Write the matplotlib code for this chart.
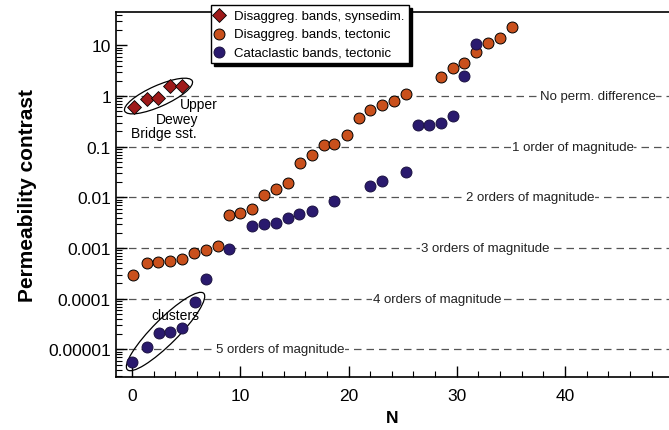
import matplotlib
matplotlib.use('Agg')
import matplotlib.pyplot as plt
from matplotlib.patches import Ellipse
from matplotlib.transforms import ScaledTranslation
from matplotlib.ticker import LogLocator, FixedLocator, MultipleLocator, NullFormatter

plt.rcParams['font.family'] = ['Liberation Sans', 'DejaVu Sans']

# Disaggregation bands, synsedimentary (Upper Dewey Bridge sst.)
syn_n = [0.2, 1.35, 2.4, 3.5, 4.6]
syn_k = [0.62, 0.87, 0.90, 1.55, 1.6]

# Disaggregation bands, tectonic
dis_n = [0.1, 1.35, 2.4, 3.5, 4.6, 5.7, 6.8, 7.9, 9.0, 10.0, 11.1, 12.2, 13.3, 14.4,
         15.5, 16.6, 17.7, 18.7, 19.85, 20.95, 22.0, 23.1, 24.2, 25.3,
         28.55, 29.65, 30.7, 31.8, 32.9, 34.0, 35.1]
dis_k = [3.0e-4, 5.1e-4, 5.2e-4, 5.6e-4, 6.1e-4, 8.1e-4, 9.0e-4, 1.1e-3, 4.4e-3, 5.0e-3,
         6.0e-3, 0.0109, 0.0148, 0.0192, 0.047, 0.070, 0.109, 0.113, 0.167, 0.37,
         0.53, 0.66, 0.80, 1.11, 2.33, 3.6, 4.5, 7.4, 11.3, 14.2, 23.0]

# Cataclastic bands, tectonic
cat_n = [0.0, 1.4, 2.45, 3.55, 4.6, 5.8, 6.8, 9.0, 11.1, 12.2, 13.3, 14.4, 15.45, 16.6,
         18.7, 22.0, 23.1, 25.3, 26.4, 27.45, 28.55, 29.65, 30.7, 31.8]
cat_k = [5.6e-6, 1.1e-5, 2.1e-5, 2.2e-5, 2.7e-5, 8.8e-5, 2.45e-4, 9.5e-4, 2.7e-3, 3.0e-3,
         3.06e-3, 4.0e-3, 4.8e-3, 5.4e-3, 8.6e-3, 0.0164, 0.0206, 0.031, 0.268, 0.268,
         0.288, 0.40, 2.44, 10.6]

# reference lines and their labels
ref_k = [1, 0.1, 0.01, 0.001, 0.0001, 0.00001]
ref_labels = ['No perm. difference', '1 order of magnitude', '2 orders of magnitude',
              '3 orders of magnitude', '4 orders of magnitude', '5 orders of magnitude']
ref_label_n = [43.0, 40.7, 36.8, 32.6, 28.2, 13.7]

fig = plt.figure(figsize=(6.69, 4.31), dpi=100)
ax = fig.add_axes([0.173, 0.123, 0.827, 0.847])

for k, lab, xn in zip(ref_k, ref_labels, ref_label_n):
    ax.axhline(k, color='#555555', lw=0.9, dashes=(6, 4), zorder=1)
    ax.text(xn, k, lab, ha='center', va='center', fontsize=9.5, color='#222222',
            bbox=dict(facecolor='white', edgecolor='none', pad=0.5), zorder=2)

ax.scatter(syn_n, syn_k, marker='D', s=50, color='#9e1a1a', edgecolor='black',
           linewidths=0.6, zorder=4, label='Disaggreg. bands, synsedim.')
ax.scatter(dis_n, dis_k, marker='o', s=62, color='#c9501c', edgecolor='black',
           linewidths=0.7, zorder=4, label='Disaggreg. bands, tectonic')
ax.scatter(cat_n, cat_k, marker='o', s=62, color='#2a1a6e', edgecolor='#1a1040',
           linewidths=0.7, zorder=4, label='Cataclastic bands, tectonic')

# ellipses drawn in inches, centred on a data point
e1 = Ellipse((0, 0), 0.74, 0.21, angle=24, fill=False, lw=0.9, color='black',
             transform=fig.dpi_scale_trans + ScaledTranslation(2.45, 1.0, ax.transData))
e2 = Ellipse((0, 0), 1.08, 0.25, angle=45, fill=False, lw=0.9, color='black',
             transform=fig.dpi_scale_trans + ScaledTranslation(3.1, 2.25e-5, ax.transData))
ax.add_patch(e1)
ax.add_patch(e2)

ax.text(4.0, 4.8e-5, 'clusters', ha='center', va='center', fontsize=10, zorder=5)
ax.text(6.2, 0.70, 'Upper', ha='center', va='center', fontsize=10)
ax.text(4.2, 0.36, 'Dewey', ha='center', va='center', fontsize=10)
ax.text(2.95, 0.19, 'Bridge sst.', ha='center', va='center', fontsize=10)

ax.set_yscale('log')
ax.set_xlim(-1.5, 49.6)
ax.set_ylim(10 ** -5.545, 10 ** 1.66)

ax.yaxis.set_major_locator(FixedLocator([1e-5, 1e-4, 1e-3, 1e-2, 0.1, 1, 10]))
ax.set_yticklabels(['0.00001', '0.0001', '0.001', '0.01', '0.1', '1', '10'])
ax.yaxis.set_minor_locator(LogLocator(base=10, subs=range(2, 10), numticks=20))
ax.yaxis.set_minor_formatter(NullFormatter())
ax.xaxis.set_major_locator(MultipleLocator(10))
ax.xaxis.set_minor_locator(MultipleLocator(2))

ax.tick_params(which='both', direction='in', labelsize=12.5, width=1)
ax.tick_params(which='major', length=8)
ax.tick_params(which='minor', length=4, width=0.8)
ax.tick_params(axis='x', pad=8)
ax.spines['right'].set_visible(False)
for s in ['left', 'bottom', 'top']:
    ax.spines[s].set_linewidth(1.2)

ax.set_xlabel('N', fontsize=12.5, fontweight='bold', labelpad=5)
ax.set_ylabel('Permeability contrast', fontsize=15, fontweight='bold', labelpad=8)

leg = ax.legend(loc='upper left', bbox_to_anchor=(0.315, 0.986), bbox_transform=fig.transFigure,
                borderaxespad=0, fontsize=9.5, frameon=True, fancybox=False,
                edgecolor='black', framealpha=1, handlelength=0.6, handletextpad=0.8,
                borderpad=0.35, labelspacing=0.45, scatterpoints=1,
                shadow={'color': 'black', 'alpha': 1})
leg.get_frame().set_linewidth(1.0)
leg.set_zorder(10)

fig.savefig('out.png', dpi=100)
